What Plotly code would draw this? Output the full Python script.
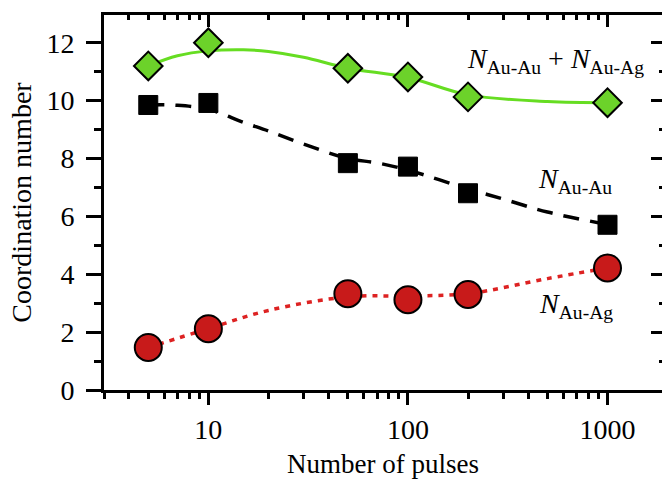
import plotly.graph_objects as go
import math

# ---- data ----
pulses = [5, 10, 50, 100, 200, 1000]
n_total = [11.2, 12.0, 11.12, 10.82, 10.13, 9.93]     # N_Au-Au + N_Au-Ag
n_auau = [9.85, 9.92, 7.84, 7.72, 6.80, 5.71]         # N_Au-Au
n_auag = [1.47, 2.12, 3.33, 3.12, 3.30, 4.22]         # N_Au-Ag

# guide curves drawn through the points
total_fit_x = [5, 7, 10, 15, 20, 30, 50, 100, 200, 500, 1000]
total_fit_y = [11.2, 11.55, 11.72, 11.76, 11.7, 11.5, 11.12, 10.8, 10.2, 9.97, 9.93]
auau_fit_x = [5, 7, 10, 15, 20, 30, 50, 70, 100, 200, 300, 500, 1000]
auau_fit_y = [9.85, 9.84, 9.7, 9.25, 8.95, 8.5, 8.0, 7.85, 7.6, 6.95, 6.6, 6.15, 5.72]
auag_fit_x = [5, 10, 20, 50, 100, 200, 500, 1000]
auag_fit_y = [1.47, 2.12, 2.75, 3.22, 3.25, 3.33, 3.85, 4.22]

x_major = [10, 100, 1000]
x_minor = [3, 4, 5, 6, 7, 8, 9, 20, 30, 40, 50, 60, 70, 80, 90,
           200, 300, 400, 500, 600, 700, 800, 900]
y_major = [0, 2, 4, 6, 8, 10, 12]
y_minor = [1, 3, 5, 7, 9, 11]

FONT = "Liberation Serif, Times New Roman, serif"
GREEN_LINE = "#66dd22"
GREEN_FILL = "#6cd22a"
RED_FILL = "#c81a1a"
RED_LINE = "#dd2222"

xr = [math.log10(3), 3.273]
yr = [0, 12.96]

fig = go.Figure()

fig.add_trace(go.Scatter(x=total_fit_x, y=total_fit_y, mode="lines",
                         line=dict(color=GREEN_LINE, width=3, shape="spline", smoothing=1.0),
                         hoverinfo="skip", showlegend=False))
fig.add_trace(go.Scatter(x=auau_fit_x, y=auau_fit_y, mode="lines",
                         line=dict(color="black", width=3.5, dash="16px,11px", shape="spline", smoothing=1.0),
                         hoverinfo="skip", showlegend=False))
fig.add_trace(go.Scatter(x=auag_fit_x, y=auag_fit_y, mode="lines",
                         line=dict(color=RED_LINE, width=3.5, dash="5px,6px", shape="spline", smoothing=1.0),
                         hoverinfo="skip", showlegend=False))

fig.add_trace(go.Scatter(x=pulses, y=n_total, mode="markers",
                         marker=dict(symbol="diamond", size=22, color=GREEN_FILL,
                                     line=dict(color="black", width=2)),
                         showlegend=False))
fig.add_trace(go.Scatter(x=pulses, y=n_auau, mode="markers",
                         marker=dict(symbol="square", size=19, color="black",
                                     line=dict(color="black", width=1)),
                         showlegend=False))
fig.add_trace(go.Scatter(x=pulses, y=n_auag, mode="markers",
                         marker=dict(symbol="circle", size=27, color=RED_FILL,
                                     line=dict(color="black", width=2)),
                         showlegend=False))

# dummy trace to activate the mirror axes (top / right)
fig.add_trace(go.Scatter(x=[None], y=[None], xaxis="x2", yaxis="y2",
                         mode="markers", showlegend=False, hoverinfo="skip"))

tickfont = dict(family=FONT, size=28, color="black")

fig.update_layout(
    width=662, height=479,
    margin=dict(l=103.5, r=0, t=15, b=88.5),
    paper_bgcolor="white", plot_bgcolor="white",
    showlegend=False,
    xaxis=dict(type="log", range=xr, showgrid=False, zeroline=False,
               showline=True, linecolor="black", linewidth=3,
               ticks="outside", ticklen=12, tickwidth=3, tickcolor="black",
               tickvals=x_major, ticktext=[str(v) for v in x_major],
               tickfont=tickfont, ticklabelstandoff=0,
               minor=dict(tickvals=x_minor, ticks="outside", ticklen=6,
                          tickwidth=3, tickcolor="black", showgrid=False),
               title=dict(text="Number of pulses",
                          font=dict(family=FONT, size=27, color="black"),
                          standoff=16)),
    xaxis2=dict(type="log", range=xr, overlaying="x", side="top",
                showgrid=False, zeroline=False,
                showline=True, linecolor="black", linewidth=3,
                ticks="inside", ticklen=12, tickwidth=3, tickcolor="black",
                tickvals=x_major, showticklabels=False,
                minor=dict(tickvals=x_minor, ticks="inside", ticklen=5,
                           tickwidth=3, tickcolor="black", showgrid=False)),
    yaxis=dict(range=yr, showgrid=False, zeroline=False,
               showline=True, linecolor="black", linewidth=3,
               ticks="outside", ticklen=15, tickwidth=3, tickcolor="black",
               tickvals=y_major, tickfont=tickfont, ticklabelstandoff=6,
               minor=dict(tickvals=y_minor, ticks="outside", ticklen=7,
                          tickwidth=3, tickcolor="black", showgrid=False),
               title=dict(text="Coordination number",
                          font=dict(family=FONT, size=28, color="black"),
                          standoff=7)),
    yaxis2=dict(range=yr, overlaying="y", side="right",
                showgrid=False, zeroline=False, showline=False,
                ticks="inside", ticklen=11, tickwidth=3, tickcolor="black",
                tickvals=y_major, showticklabels=False,
                minor=dict(tickvals=y_minor, ticks="inside", ticklen=3,
                           tickwidth=3, tickcolor="black", showgrid=False)),
)

afont = dict(family=FONT, size=28, color="black")
fig.add_annotation(xref="paper", yref="paper", x=(555 - 103.5) / 558.5, y=(390.5 - 61) / 375.5,
                   text="<i>N</i><sub>Au-Au</sub> + <i>N</i><sub>Au-Ag</sub>",
                   showarrow=False, font=afont, xanchor="center", yanchor="middle")
fig.add_annotation(xref="paper", yref="paper", x=(575 - 103.5) / 558.5, y=(390.5 - 181) / 375.5,
                   text="<i>N</i><sub>Au-Au</sub>",
                   showarrow=False, font=afont, xanchor="center", yanchor="middle")
fig.add_annotation(xref="paper", yref="paper", x=(576 - 103.5) / 558.5, y=(390.5 - 306) / 375.5,
                   text="<i>N</i><sub>Au-Ag</sub>",
                   showarrow=False, font=afont, xanchor="center", yanchor="middle")

fig.write_html("out.html")
